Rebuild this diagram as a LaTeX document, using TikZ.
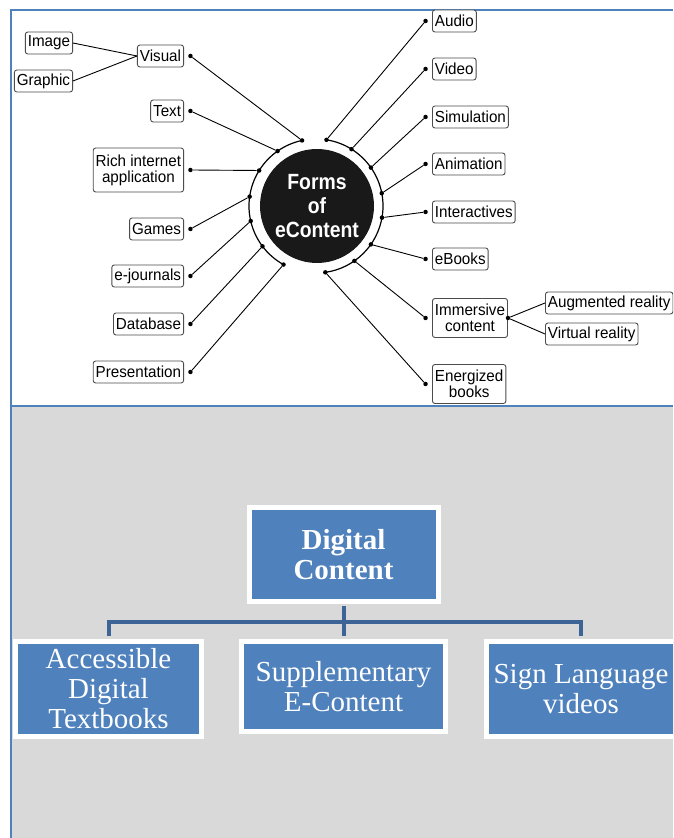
\documentclass[tikz,border=0pt]{standalone}
\usepackage{fontspec}
\setmainfont{Liberation Serif}
\newfontfamily\tagfont[FakeStretch=0.95]{Liberation Sans}
\newfontfamily\hubfont[FakeStretch=0.88]{Liberation Sans}
\usetikzlibrary{positioning}

\definecolor{frameblue}{HTML}{4F81BD}
\definecolor{boxblue}{HTML}{4F81BD}
\definecolor{treeblue}{HTML}{3C6496}
\definecolor{panelgray}{HTML}{D9D9D9}

\tikzset{
  tag/.style={draw=black!70, rounded corners=2.5pt, line width=0.9pt, fill=white,
    font=\tagfont\fontsize{16}{16}\selectfont, inner xsep=2.5pt, inner ysep=2pt,
    minimum height=22pt, align=center},
  dot/.style={circle, fill=black, inner sep=0pt, minimum size=4.5pt},
  wire/.style={line width=0.9pt},
  topic/.style={draw=white, line width=5pt, fill=boxblue, text=white, align=center,
    inner sep=2pt, font=\fontsize{29}{30}\selectfont},
  tree/.style={treeblue, line width=4pt, shorten <=2.5pt, shorten >=2.5pt}
}

\begin{document}
\begin{tikzpicture}[x=1pt,y=1pt]
    % page and the two panels
    \useasboundingbox (0,0) rectangle (673,838);
    \clip (0,0) rectangle (673,838);
    \fill[white] (0,0) rectangle (673,838);
    \fill[panelgray] (11,0) rectangle (673,432);
    \draw[frameblue, line width=2pt] (11,0) -- (11,828) -- (673,828);
    \draw[frameblue, line width=2pt] (11,432) -- (673,432);

    % hub with its ring
    \coordinate (ring) at (316,632);
    \node[circle, fill=black!90, minimum size=114pt, inner sep=0pt, text=white, align=center,
      font=\hubfont\bfseries\fontsize{22}{24}\selectfont] (hub) at (317,632) {Forms\\of\\eContent};
    \draw[line width=1.2pt] ([shift={(102:67)}]ring) arc[start angle=102, end angle=241, radius=67];
    \draw[line width=1.2pt] ([shift={(81:67)}]ring) arc[start angle=81, end angle=-82, radius=67];

    % left side
    \node[tag, anchor=east] (visual)       at (184,782) {Visual};
    \node[tag, anchor=east] (image)        at (73,795)  {Image};
    \node[tag, anchor=east] (graphic)      at (73,757)  {Graphic};
    \node[tag, anchor=east] (text)         at (184,727) {Text};
    \node[tag, anchor=east, minimum height=44pt] (rich) at (184,668) {Rich internet\\application};
    \node[tag, anchor=east] (games)        at (184,609) {Games};
    \node[tag, anchor=east] (ejournals)    at (184,562) {e-journals};
    \node[tag, anchor=east] (database)     at (184,514) {Database};
    \node[tag, anchor=east] (presentation) at (184,466) {Presentation};

    % right side
    \node[tag, anchor=west] (audio)        at (432,817) {Audio};
    \node[tag, anchor=west] (video)        at (432,769) {Video};
    \node[tag, anchor=west] (simulation)   at (432,721) {Simulation};
    \node[tag, anchor=west] (animation)    at (432,674) {Animation};
    \node[tag, anchor=west] (interactives) at (432,626) {Interactives};
    \node[tag, anchor=west] (ebooks)       at (432,579) {eBooks};
    \node[tag, anchor=west, minimum height=39pt] (immersive) at (432,520) {Immersive\\content};
    \node[tag, anchor=west, minimum height=39pt] (energized) at (432,454) {Energized\\books};
    \node[tag, anchor=west] (augmented)    at (545,535) {Augmented reality};
    \node[tag, anchor=west] (virtual)      at (545,504) {Virtual reality};

    % dots beside the tags
    \node[dot, right=4pt of visual]       (d-visual) {};
    \node[dot, right=4pt of text]         (d-text) {};
    \node[dot, right=4pt of rich]         (d-rich) {};
    \node[dot, right=4pt of games]        (d-games) {};
    \node[dot, right=4pt of ejournals]    (d-ejournals) {};
    \node[dot, right=4pt of database]     (d-database) {};
    \node[dot, right=4pt of presentation] (d-presentation) {};
    \node[dot, left=4pt of audio]         (d-audio) {};
    \node[dot, left=4pt of video]         (d-video) {};
    \node[dot, left=4pt of simulation]    (d-simulation) {};
    \node[dot, left=4pt of animation]     (d-animation) {};
    \node[dot, left=4pt of interactives]  (d-interactives) {};
    \node[dot, left=4pt of ebooks]        (d-ebooks) {};
    \node[dot, left=4pt of immersive]     (d-immersive) {};
    \node[dot, left=4pt of energized]     (d-energized) {};
    \node[dot] (d-split) at (immersive.east) {};

    % dots on the ring
    \node[dot] (r-visual)       at ([shift={(102:67)}]ring) {};
    \node[dot] (r-text)         at ([shift={(125:67)}]ring) {};
    \node[dot] (r-rich)         at ([shift={(148:67)}]ring) {};
    \node[dot] (r-games)        at ([shift={(172:67)}]ring) {};
    \node[dot] (r-ejournals)    at ([shift={(193:67)}]ring) {};
    \node[dot] (r-database)     at ([shift={(217:67)}]ring) {};
    \node[dot] (r-presentation) at ([shift={(241:67)}]ring) {};
    \node[dot] (r-audio)        at ([shift={(81:67)}]ring) {};
    \node[dot] (r-video)        at ([shift={(58:67)}]ring) {};
    \node[dot] (r-simulation)   at ([shift={(35:67)}]ring) {};
    \node[dot] (r-animation)    at ([shift={(11:67)}]ring) {};
    \node[dot] (r-interactives) at ([shift={(-10:67)}]ring) {};
    \node[dot] (r-ebooks)       at ([shift={(-35:67)}]ring) {};
    \node[dot] (r-immersive)    at ([shift={(-55:67)}]ring) {};
    \node[dot] (r-energized)    at ([shift={(-82:67)}]ring) {};

    \path[wire]
    (image.east)   edge (visual.west)
    (graphic.east) edge (visual.west)
    (d-visual)       edge (r-visual)
    (d-text)         edge (r-text)
    (d-rich)         edge (r-rich)
    (d-games)        edge (r-games)
    (d-ejournals)    edge (r-ejournals)
    (d-database)     edge (r-database)
    (d-presentation) edge (r-presentation)
    (d-audio)        edge (r-audio)
    (d-video)        edge (r-video)
    (d-simulation)   edge (r-simulation)
    (d-animation)    edge (r-animation)
    (d-interactives) edge (r-interactives)
    (d-ebooks)       edge (r-ebooks)
    (d-immersive)    edge (r-immersive)
    (d-energized)    edge (r-energized)
    (d-split) edge (augmented.west)
              edge (virtual.west);

    % lower chart
    \node[topic, font=\bfseries\fontsize{29}{30}\selectfont, minimum width=189pt, minimum height=94pt]
      (digital) at (343.5,283.5) {Digital\\Content};
    \node[topic, minimum width=186pt, minimum height=95pt] (accessible)    at (108.5,149) {Accessible\\Digital\\Textbooks};
    \node[topic, minimum width=204pt, minimum height=90pt] (supplementary) at (343.5,151.5) {Supplementary\\E-Content};
    \node[topic, minimum width=189pt, minimum height=95pt] (signlang)      at (581,149) {Sign Language\\videos};

    \coordinate (bar) at (343.5,216);
    \draw[tree] (digital.south) -- (supplementary.north);
    \draw[tree] (accessible.north) |- (bar) -| (signlang.north);
\end{tikzpicture}
\end{document}
